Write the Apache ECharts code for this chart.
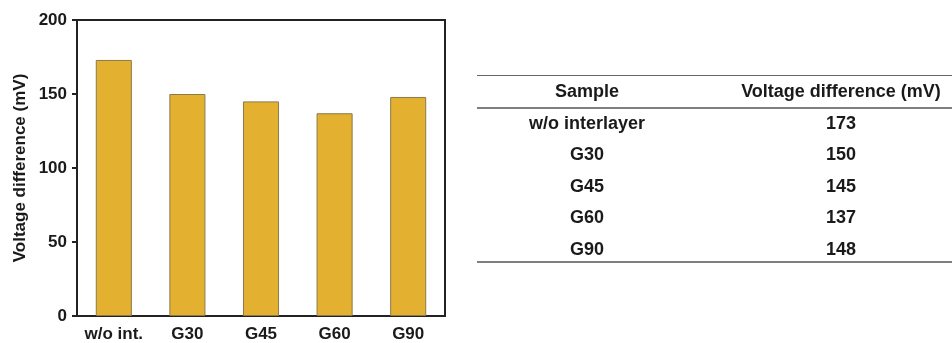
<!DOCTYPE html>
<html>
<head>
<meta charset="utf-8">
<script src="https://cdn.jsdelivr.net/npm/echarts@6/dist/echarts.min.js"></script>
<style>
  html, body { margin: 0; padding: 0; background: #fff; }
  #chart { width: 952px; height: 343px; }
</style>
</head>
<body>
<div id="chart"></div>
<script>
// Sample labels on the bar axis and full names in the table
var categories = ['w/o int.', 'G30', 'G45', 'G60', 'G90'];
var sampleNames = ['w/o interlayer', 'G30', 'G45', 'G60', 'G90'];
// Voltage difference (mV) per sample
var voltageDiff = [173, 150, 145, 137, 148];
var yTicks = [0, 50, 100, 150, 200];
var tableHeader = ['Sample', 'Voltage difference (mV)'];

var FONT = '"Liberation Sans", Arial, sans-serif';
var INK = '#1a1a1a';
var chart = echarts.init(document.getElementById('chart'));

// Summary table drawn as graphic elements from the same arrays
var tableLeft = 477, tableRight = 952;
var colX = [587, 841];
var headerY = 92;
var rowY0 = 124, rowStep = 31.5;
var graphics = [];
graphics.push({ type: 'line', shape: { x1: tableLeft, y1: 75.5, x2: tableRight, y2: 75.5 }, style: { stroke: '#666', lineWidth: 1 } });
graphics.push({ type: 'line', shape: { x1: tableLeft, y1: 108, x2: tableRight, y2: 108 }, style: { stroke: '#555', lineWidth: 1.5 } });
graphics.push({ type: 'line', shape: { x1: tableLeft, y1: 262, x2: tableRight, y2: 262 }, style: { stroke: '#555', lineWidth: 1.5 } });
tableHeader.forEach(function (h, i) {
  graphics.push({ type: 'text', x: colX[i], y: headerY, style: { text: h, font: 'bold 18px ' + FONT, fill: INK, align: 'center', verticalAlign: 'middle' } });
});
sampleNames.forEach(function (name, i) {
  var y = rowY0 + i * rowStep;
  graphics.push({ type: 'text', x: colX[0], y: y, style: { text: name, font: 'bold 18px ' + FONT, fill: INK, align: 'center', verticalAlign: 'middle' } });
  graphics.push({ type: 'text', x: colX[1], y: y, style: { text: String(voltageDiff[i]), font: 'bold 18px ' + FONT, fill: INK, align: 'center', verticalAlign: 'middle' } });
});
// Closed frame around the plot area
graphics.push({ type: 'rect', shape: { x: 77, y: 20, width: 368, height: 296 }, style: { fill: 'none', stroke: '#222', lineWidth: 2 }, z: -1 });

chart.setOption({
  animation: false,
  textStyle: { fontFamily: FONT },
  grid: { left: 77, right: 507, top: 20, bottom: 27 },
  xAxis: {
    type: 'category',
    data: categories,
    axisLine: { lineStyle: { color: '#222', width: 2 } },
    axisTick: { alignWithLabel: true, length: 5, lineStyle: { color: '#222', width: 2 } },
    axisLabel: { interval: 0, hideOverlap: false, color: INK, fontSize: 17, fontWeight: 'bold', margin: 10 }
  },
  yAxis: {
    type: 'value',
    min: yTicks[0],
    max: yTicks[yTicks.length - 1],
    interval: 50,
    name: 'Voltage difference (mV)',
    nameLocation: 'middle',
    nameGap: 48,
    nameTextStyle: { color: INK, fontSize: 17, fontWeight: 'bold' },
    splitLine: { show: false },
    axisLine: { show: true, lineStyle: { color: '#222', width: 2 } },
    axisTick: { show: true, length: 5, lineStyle: { color: '#222', width: 2 } },
    axisLabel: { color: INK, fontSize: 17, fontWeight: 'bold', margin: 10 }
  },
  series: [{
    type: 'bar',
    data: voltageDiff,
    barWidth: '49%',
    itemStyle: { color: '#E4B030', borderColor: '#8a7a4a', borderWidth: 1 }
  }],
  graphic: graphics
});
</script>
</body>
</html>
